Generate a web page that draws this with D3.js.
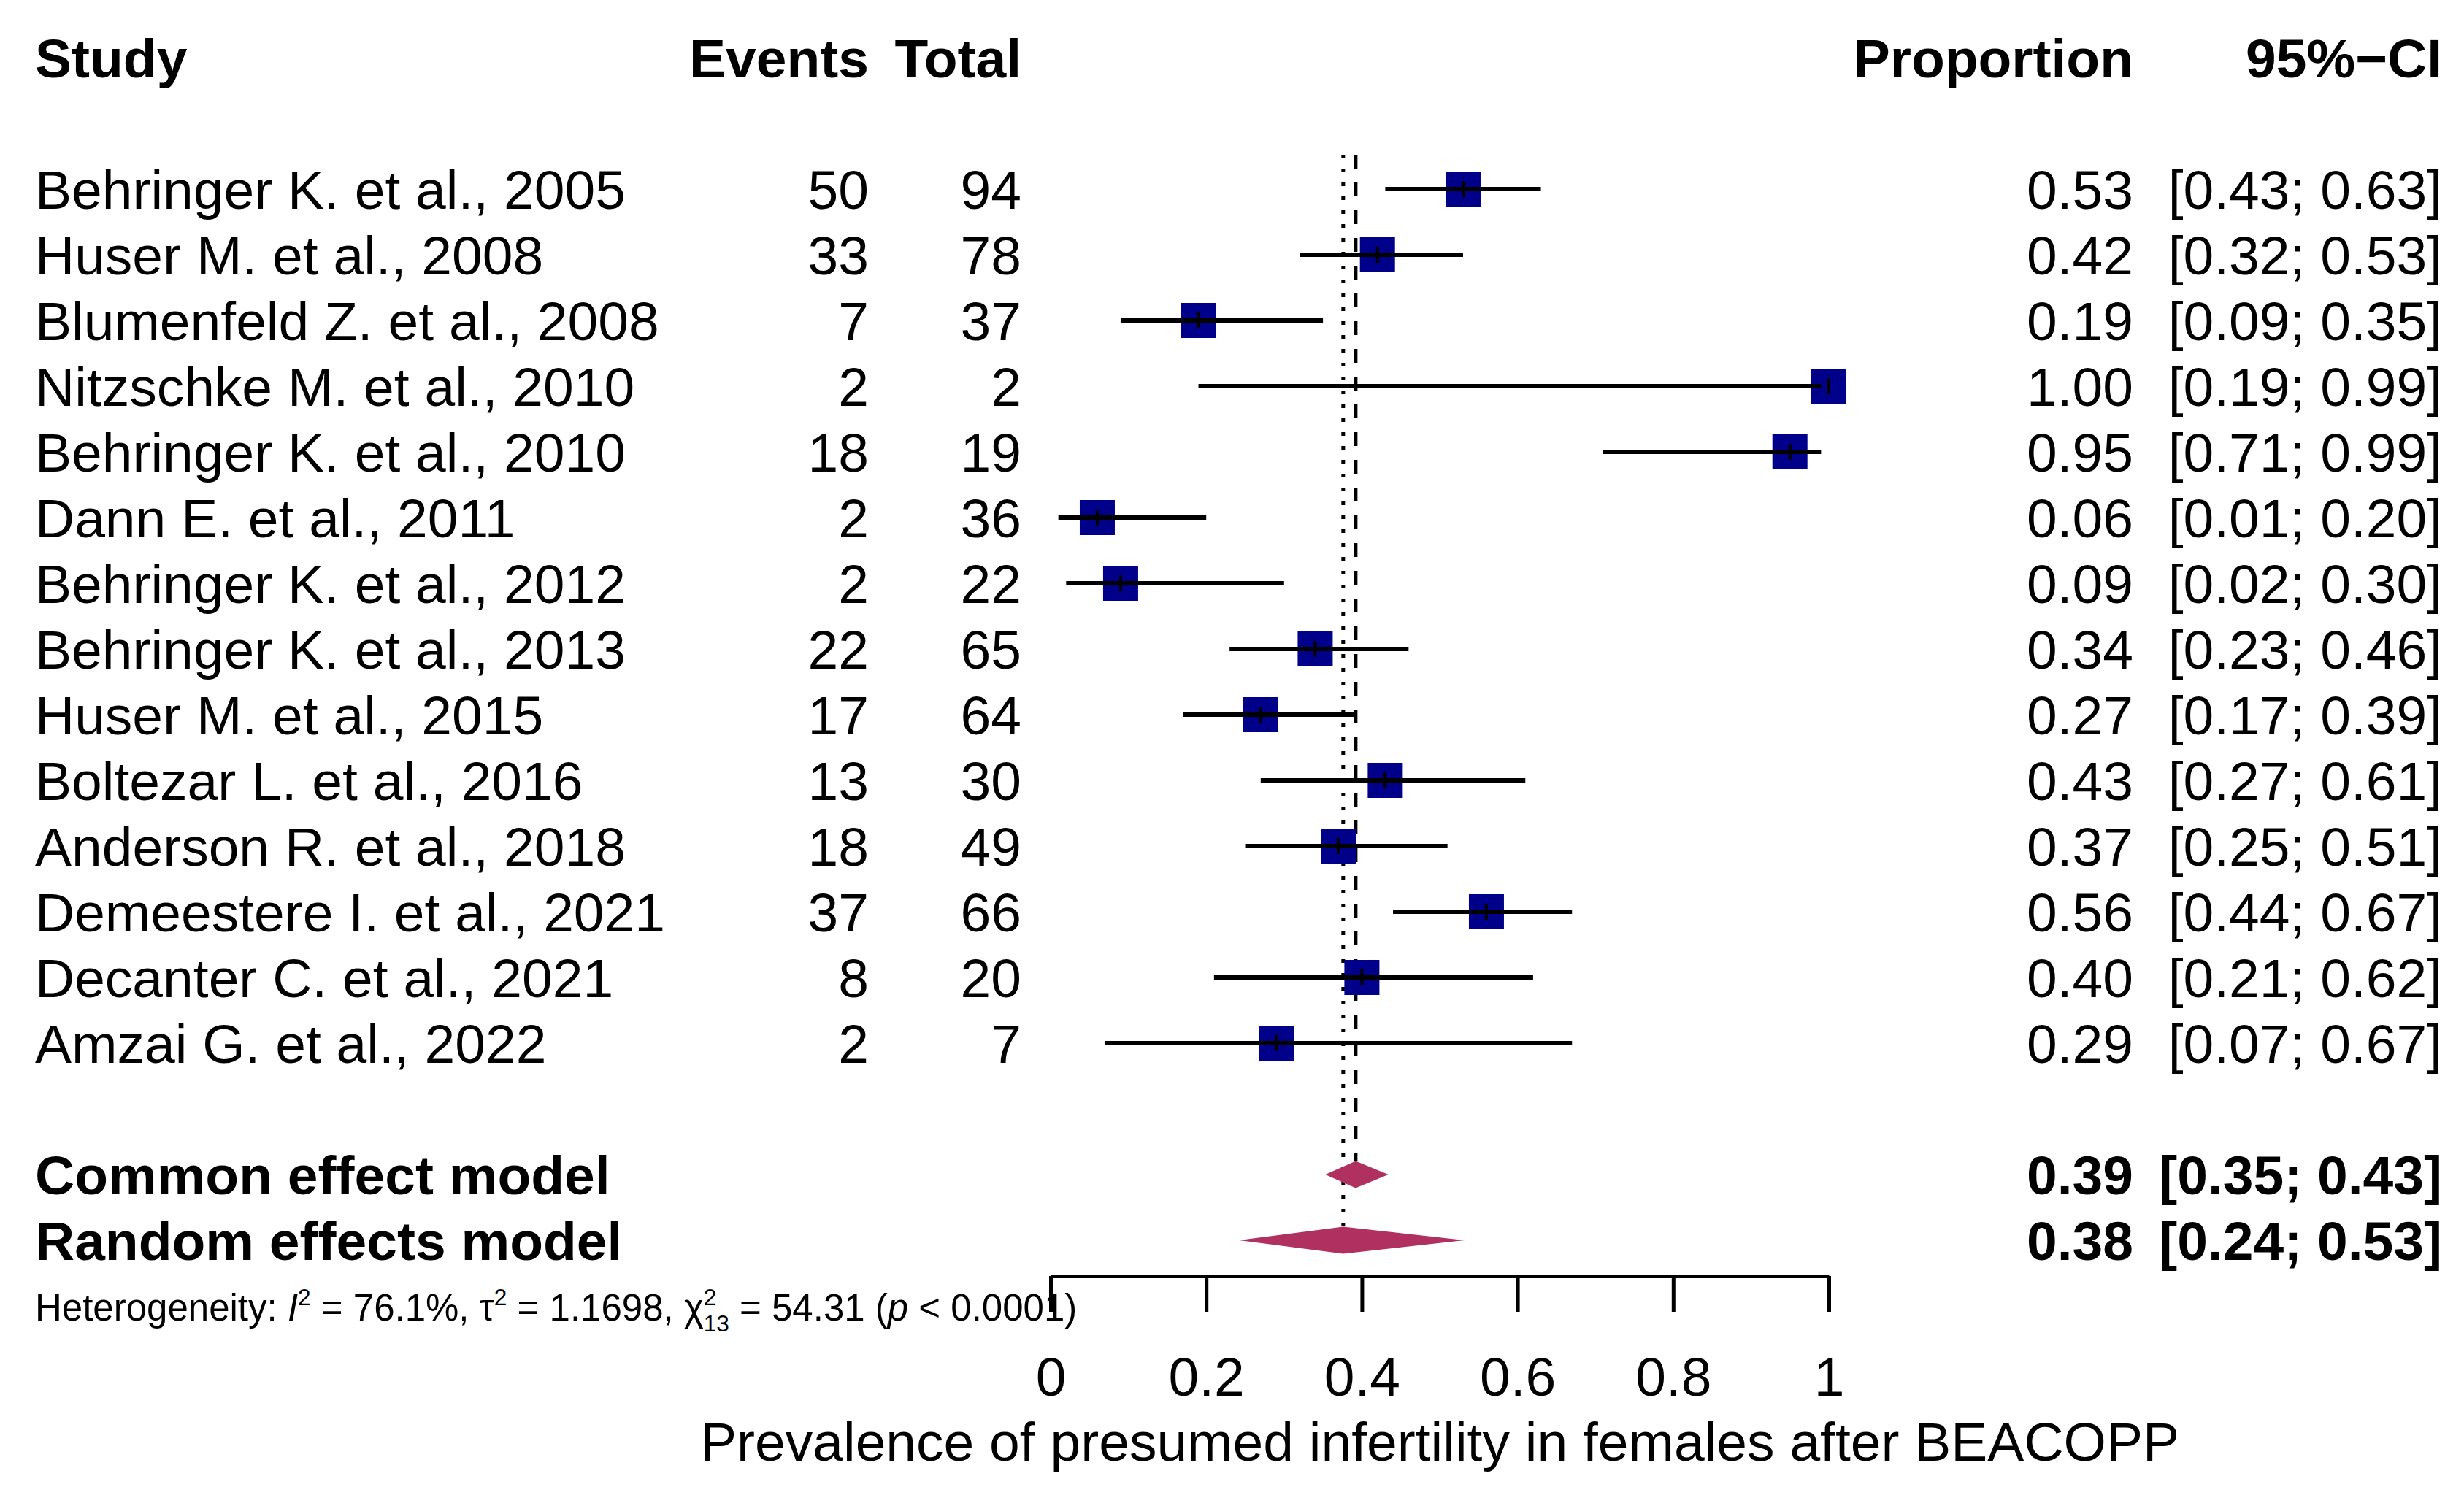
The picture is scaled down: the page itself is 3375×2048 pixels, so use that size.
<!DOCTYPE html>
<html>
<head>
<meta charset="utf-8">
<script src="https://cdn.jsdelivr.net/npm/d3@7"></script>
<style>
  html, body { margin: 0; padding: 0; background: #fff; }
  svg { display: block; font-family: "Liberation Sans", Arial, sans-serif; }
</style>
</head>
<body>
<svg id="chart" width="3375" height="2048"></svg>
<script>
// ---------------- data ----------------
const studies = [
  "Behringer K. et al., 2005", "Huser M. et al., 2008", "Blumenfeld Z. et al., 2008",
  "Nitzschke M. et al., 2010", "Behringer K. et al., 2010", "Dann E. et al., 2011",
  "Behringer K. et al., 2012", "Behringer K. et al., 2013", "Huser M. et al., 2015",
  "Boltezar L. et al., 2016", "Anderson R. et al., 2018", "Demeestere I. et al., 2021",
  "Decanter C. et al., 2021", "Amzai G. et al., 2022"
];
const events = [50, 33, 7, 2, 18, 2, 2, 22, 17, 13, 18, 37, 8, 2];
const totals = [94, 78, 37, 2, 19, 36, 22, 65, 64, 30, 49, 66, 20, 7];
const proportion = [0.53, 0.42, 0.19, 1.00, 0.95, 0.06, 0.09, 0.34, 0.27, 0.43, 0.37, 0.56, 0.40, 0.29];
const ciLower = [0.43, 0.32, 0.09, 0.19, 0.71, 0.01, 0.02, 0.23, 0.17, 0.27, 0.25, 0.44, 0.21, 0.07];
const ciUpper = [0.63, 0.53, 0.35, 0.99, 0.99, 0.20, 0.30, 0.46, 0.39, 0.61, 0.51, 0.67, 0.62, 0.67];

const modelNames = ["Common effect model", "Random effects model"];
const modelEst = [0.392, 0.376];
const modelLower = [0.353, 0.242];
const modelUpper = [0.434, 0.532];
const modelLabelEst = ["0.39", "0.38"];
const modelLabelCI = ["[0.35; 0.43]", "[0.24; 0.53]"];

const tickValues = [0, 0.2, 0.4, 0.6, 0.8, 1];
const tickLabels = ["0", "0.2", "0.4", "0.6", "0.8", "1"];
const headers = { study: "Study", events: "Events", total: "Total", prop: "Proportion", ci: "95%\u2212CI" };
const xTitle = "Prevalence of presumed infertility in females after BEACOPP";

// ---------------- layout ----------------
const svg = d3.select("#chart");
svg.append("rect").attr("width", 3375).attr("height", 2048).attr("fill", "#fff");

const FS = 75;
const x = d3.scaleLinear().domain([0, 1]).range([1439, 2505]);
const rowY = d3.scaleLinear().domain([0, 1]).range([259, 349]); // row index -> center y
const base = FS * 0.36; // center -> baseline offset

const colStudy = 48, colEvents = 1190, colTotal = 1399, colProp = 2922, colCI = 3345;

// headers
const hdrY = 106;
const hdr = svg.append("g").attr("font-weight", "bold").attr("font-size", FS).attr("fill", "#000");
hdr.append("text").attr("x", colStudy).attr("y", hdrY).text(headers.study);
hdr.append("text").attr("x", colEvents).attr("y", hdrY).attr("text-anchor", "end").text(headers.events);
hdr.append("text").attr("x", colTotal).attr("y", hdrY).attr("text-anchor", "end").text(headers.total);
hdr.append("text").attr("x", colProp).attr("y", hdrY).attr("text-anchor", "end").text(headers.prop);
hdr.append("text").attr("x", colCI).attr("y", hdrY).attr("text-anchor", "end").text(headers.ci);

// reference lines
const lineTop = 212;
const sqSize = 48;
const diamH = 37;
// common (dashed) ends at common diamond top, random (dotted) at random diamond top
svg.append("line")
  .attr("x1", x(modelEst[0])).attr("x2", x(modelEst[0]))
  .attr("y1", lineTop).attr("y2", rowY(15) - diamH / 2)
  .attr("stroke", "#000").attr("stroke-width", 5).attr("stroke-dasharray", "19,19");
svg.append("line")
  .attr("x1", x(modelEst[1])).attr("x2", x(modelEst[1]))
  .attr("y1", lineTop).attr("y2", rowY(16) - diamH / 2)
  .attr("stroke", "#000").attr("stroke-width", 5).attr("stroke-dasharray", "5,14");

// study rows
const fmt = d3.format(".2f");
const rows = svg.append("g").attr("font-size", FS).attr("fill", "#000");
studies.forEach((s, i) => {
  const cy = rowY(i);
  const by = cy + base;
  rows.append("text").attr("x", colStudy).attr("y", by).text(s);
  rows.append("text").attr("x", colEvents).attr("y", by).attr("text-anchor", "end").text(events[i]);
  rows.append("text").attr("x", colTotal).attr("y", by).attr("text-anchor", "end").text(totals[i]);
  rows.append("text").attr("x", colProp).attr("y", by).attr("text-anchor", "end").text(fmt(proportion[i]));
  rows.append("text").attr("x", colCI).attr("y", by).attr("text-anchor", "end")
    .text("[" + fmt(ciLower[i]) + "; " + fmt(ciUpper[i]) + "]");

  // square
  svg.append("rect")
    .attr("x", x(proportion[i]) - sqSize / 2).attr("y", cy - sqSize / 2)
    .attr("width", sqSize).attr("height", sqSize)
    .attr("fill", "#00008B");
  // CI line
  svg.append("line")
    .attr("x1", x(ciLower[i])).attr("x2", x(ciUpper[i]))
    .attr("y1", cy).attr("y2", cy)
    .attr("stroke", "#000").attr("stroke-width", 6);
  // estimate tick
  svg.append("line")
    .attr("x1", x(proportion[i])).attr("x2", x(proportion[i]))
    .attr("y1", cy - 11).attr("y2", cy + 11)
    .attr("stroke", "#000").attr("stroke-width", 4);
});

// pooled rows
modelNames.forEach((m, j) => {
  const cy = rowY(15 + j);
  const by = cy + base;
  const g = svg.append("g").attr("font-size", FS).attr("font-weight", "bold").attr("fill", "#000");
  g.append("text").attr("x", colStudy).attr("y", by).text(m);
  g.append("text").attr("x", colProp).attr("y", by).attr("text-anchor", "end").text(modelLabelEst[j]);
  g.append("text").attr("x", colCI).attr("y", by).attr("text-anchor", "end").text(modelLabelCI[j]);
  const pts = [
    [x(modelLower[j]), cy], [x(modelEst[j]), cy - diamH / 2],
    [x(modelUpper[j]), cy], [x(modelEst[j]), cy + diamH / 2]
  ];
  svg.append("path").attr("d", d3.line()(pts) + "Z").attr("fill", "#B03060");
});

// heterogeneity
const HF = 51;
const het = svg.append("text").attr("x", colStudy).attr("y", 1809).attr("font-size", HF).attr("fill", "#000");
het.append("tspan").text("Heterogeneity: ");
het.append("tspan").attr("font-style", "italic").text("I");
het.append("tspan").attr("font-size", HF * 0.62).attr("dy", -HF * 0.42).text("2");
het.append("tspan").attr("dy", HF * 0.42).text(" = 76.1%, \u03C4");
het.append("tspan").attr("font-size", HF * 0.62).attr("dy", -HF * 0.42).text("2");
het.append("tspan").attr("dy", HF * 0.42).text(" = 1.1698, \u03C7");
het.append("tspan").attr("font-size", HF * 0.62).attr("dy", -HF * 0.42).text("2");
het.append("tspan").attr("font-size", HF * 0.62).attr("dx", -HF * 0.62 * 0.556).attr("dy", HF * 0.72).text("13");
het.append("tspan").attr("dy", -HF * 0.30).text(" = 54.31 (");
het.append("tspan").attr("font-style", "italic").text("p");
het.append("tspan").text(" < 0.0001)");

// axis
const axisY = 1748;
const axis = d3.axisBottom(x)
  .tickValues(tickValues)
  .tickFormat((d, i) => tickLabels[i])
  .tickSize(49).tickSizeOuter(0).tickPadding(62);
const ax = svg.append("g").attr("transform", `translate(0,${axisY})`).call(axis);
ax.select(".domain").attr("stroke", "#000").attr("stroke-width", 5);
ax.selectAll(".tick line").attr("stroke", "#000").attr("stroke-width", 5);
ax.selectAll(".tick text").attr("font-size", FS).attr("fill", "#000")
  .attr("font-family", "'Liberation Sans', Arial, sans-serif");

svg.append("text").attr("x", (x(0) + x(1)) / 2).attr("y", 2001)
  .attr("text-anchor", "middle").attr("font-size", FS).attr("fill", "#000").text(xTitle);
</script>
</body>
</html>
